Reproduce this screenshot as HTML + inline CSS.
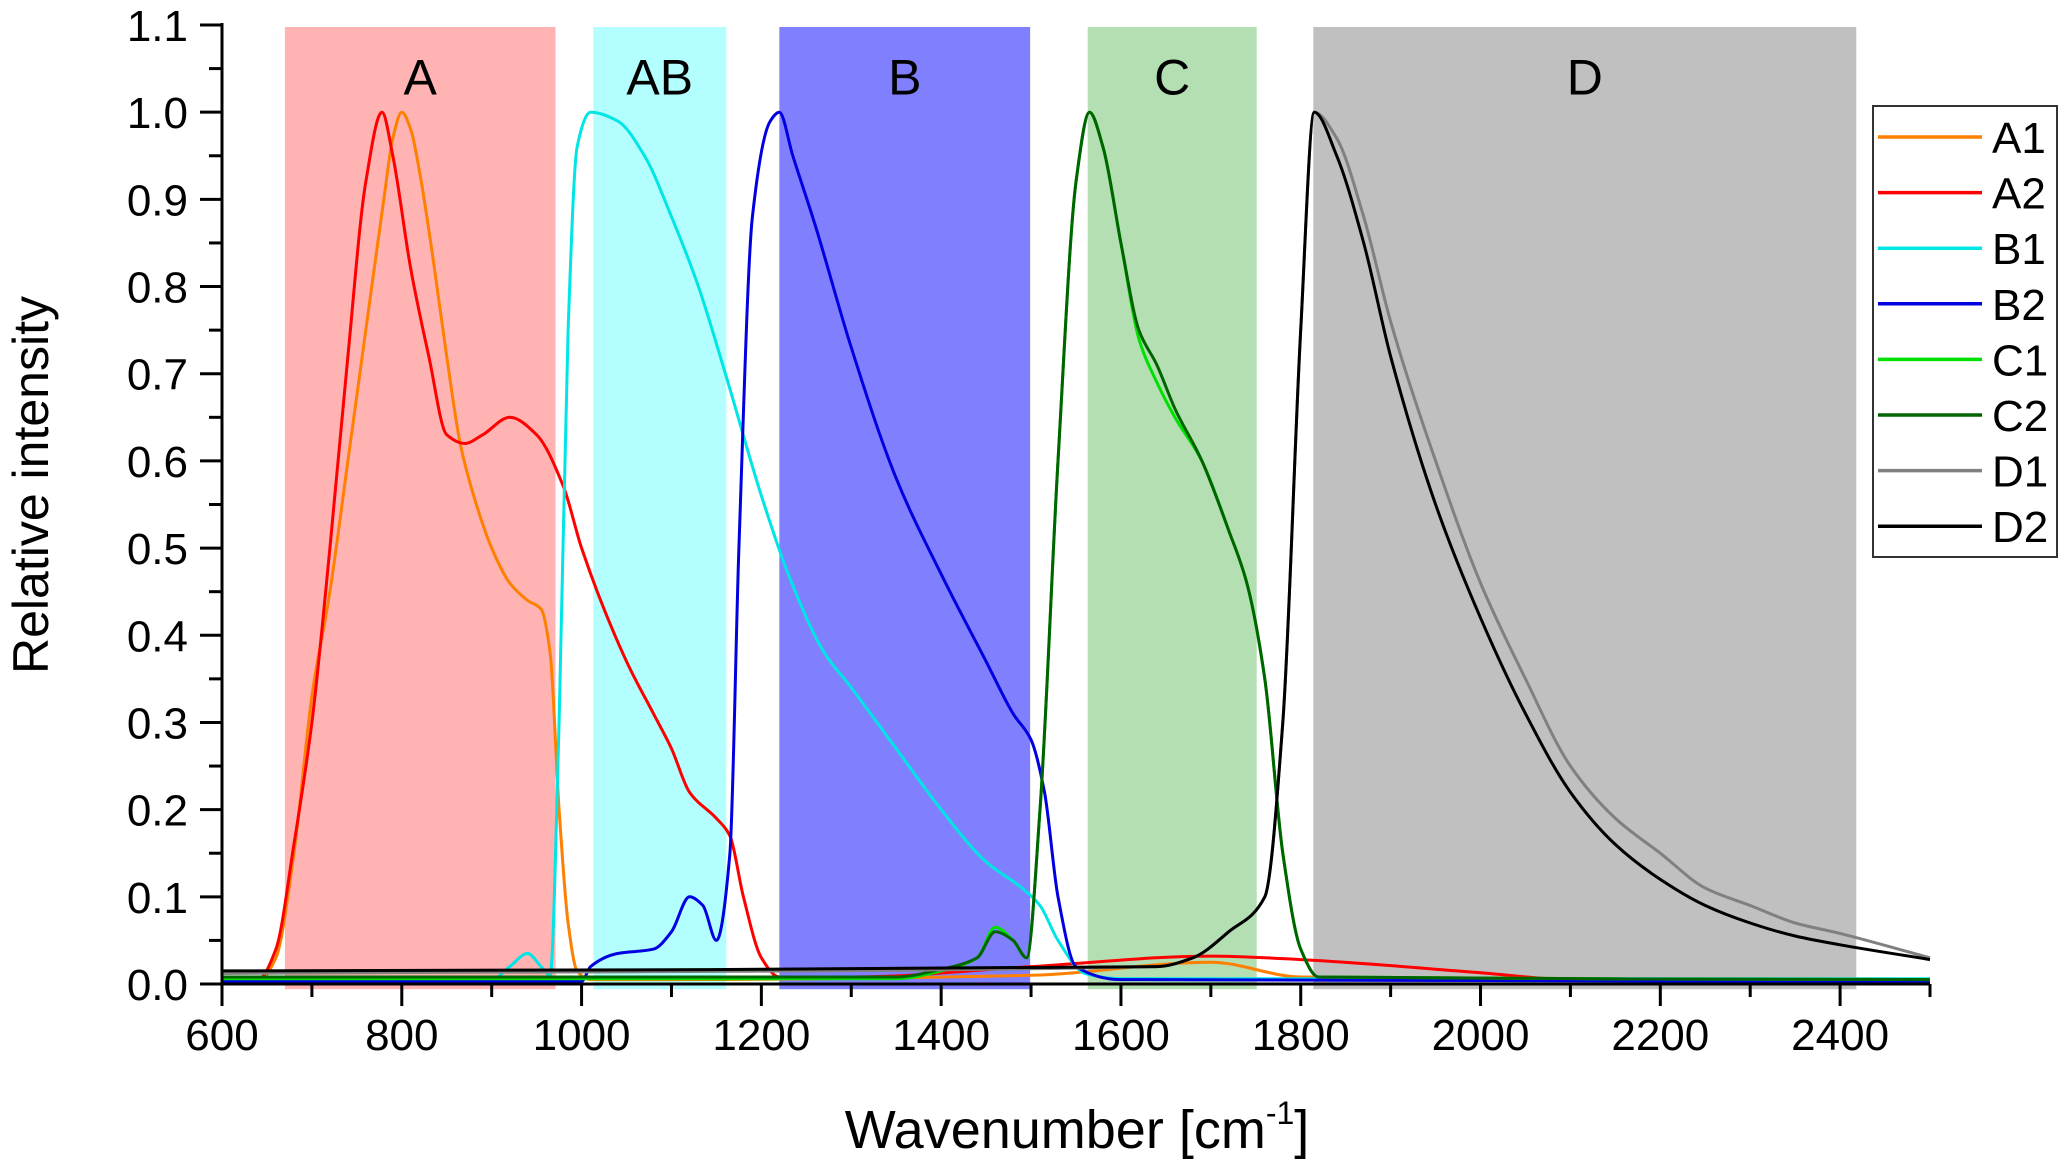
<!DOCTYPE html>
<html><head><meta charset="utf-8"><style>
html,body{margin:0;padding:0;background:#fff;}
svg{display:block;font-family:"Liberation Sans",Arial,sans-serif;}
</style></head><body>
<svg id="chart" width="2067" height="1165" viewBox="0 0 2067 1165" xmlns="http://www.w3.org/2000/svg">
<g id="regions"></g>
<g id="curves"></g>
<g id="axes"></g>
<g id="legend"></g>
</svg>
<script>
const NS="http://www.w3.org/2000/svg";
const X0=222,X1=1930,Y0=984,Y1=25;
const xMin=600,xMax=2500,yMin=0,yMax=1.1;
function sx(v){return X0+(v-xMin)/(xMax-xMin)*(X1-X0);}
function sy(v){return Y0-(v-yMin)/(yMax-yMin)*(Y0-Y1);}

const regionNames=["A","AB","B","C","D"];
const regionStart=[670,1013,1220,1563,1814];
const regionEnd=[971,1161,1499,1751,2418];
const regionColors=["#ffb3b3","#b3ffff","#8080ff","#b3dfb3","#c0c0c0"];

const xTicks=[600,800,1000,1200,1400,1600,1800,2000,2200,2400];
const yTicks=["0.0","0.1","0.2","0.3","0.4","0.5","0.6","0.7","0.8","0.9","1.0","1.1"];

const seriesNames=["A1","A2","B1","B2","C1","C2","D1","D2"];
const seriesColors=["#ff8000","#ff0000","#00e5e5","#0000e0","#00e000","#006400","#808080","#000000"];

const a1X=[600,640,660,680,700,720,740,760,780,790,800,810,820,835,850,865,880,900,920,940,955,965,975,985,995,1010,1100,1500,1700,1800,2500];
const a1Y=[0.003,0.003,0.03,0.15,0.33,0.45,0.6,0.75,0.9,0.97,1.0,0.98,0.93,0.83,0.72,0.62,0.56,0.5,0.46,0.44,0.43,0.38,0.2,0.07,0.015,0.005,0.005,0.01,0.025,0.008,0.005];

const a2X=[600,640,660,680,700,720,740,760,778,790,810,830,850,870,890,920,950,980,1000,1050,1080,1100,1120,1150,1165,1180,1200,1220,1300,1500,1700,1800,2000,2100,2500];
const a2Y=[0.003,0.005,0.04,0.16,0.3,0.5,0.72,0.92,1.0,0.95,0.82,0.72,0.63,0.62,0.63,0.65,0.63,0.57,0.5,0.37,0.31,0.27,0.22,0.19,0.17,0.1,0.03,0.008,0.008,0.02,0.032,0.028,0.013,0.005,0.005];

const b1X=[600,900,920,940,955,965,975,985,995,1010,1040,1070,1100,1130,1160,1200,1230,1270,1300,1350,1400,1450,1490,1510,1530,1560,1600,2500];
const b1Y=[0.005,0.005,0.02,0.035,0.02,0.01,0.3,0.75,0.96,1.0,0.99,0.95,0.88,0.8,0.7,0.56,0.47,0.38,0.34,0.27,0.2,0.14,0.11,0.09,0.05,0.012,0.006,0.006];

const b2X=[600,1000,1010,1040,1080,1100,1120,1135,1150,1165,1175,1190,1210,1220,1235,1260,1300,1350,1400,1450,1480,1500,1515,1530,1550,1600,2500];
const b2Y=[0.003,0.003,0.02,0.035,0.04,0.06,0.1,0.09,0.05,0.15,0.5,0.88,0.99,1.0,0.95,0.87,0.73,0.58,0.47,0.37,0.31,0.28,0.22,0.1,0.02,0.005,0.003];

const c1X=[600,1350,1400,1440,1460,1480,1495,1510,1530,1550,1565,1580,1600,1620,1640,1660,1690,1720,1740,1760,1780,1800,1820,2500];
const c1Y=[0.006,0.006,0.015,0.03,0.065,0.05,0.03,0.2,0.6,0.92,1.0,0.96,0.85,0.74,0.69,0.65,0.6,0.52,0.46,0.35,0.15,0.04,0.008,0.005];

const c2X=[600,1350,1400,1440,1460,1480,1495,1510,1530,1550,1565,1580,1600,1620,1640,1660,1690,1720,1740,1760,1780,1800,1820,2500];
const c2Y=[0.008,0.008,0.017,0.03,0.06,0.05,0.03,0.2,0.6,0.92,1.0,0.96,0.85,0.75,0.71,0.66,0.6,0.52,0.46,0.35,0.15,0.04,0.008,0.005];

const d1X=[600,1640,1680,1720,1760,1780,1800,1815,1840,1870,1900,1950,2000,2050,2100,2150,2200,2250,2300,2350,2400,2500];
const d1Y=[0.012,0.02,0.03,0.06,0.1,0.3,0.75,1.0,0.97,0.88,0.76,0.6,0.46,0.35,0.25,0.19,0.15,0.11,0.09,0.07,0.058,0.03];

const d2X=[600,1640,1680,1720,1760,1780,1800,1815,1840,1870,1900,1950,2000,2050,2100,2150,2200,2250,2300,2350,2400,2500];
const d2Y=[0.015,0.02,0.03,0.06,0.1,0.3,0.75,1.0,0.95,0.85,0.72,0.55,0.42,0.31,0.22,0.16,0.12,0.09,0.07,0.055,0.045,0.028];

const seriesX=[a1X,a2X,b1X,b2X,c1X,c2X,d1X,d2X];
const seriesY=[a1Y,a2Y,b1Y,b2Y,c1Y,c2Y,d1Y,d2Y];

function mk(tag,attrs,parent){const e=document.createElementNS(NS,tag);for(const k in attrs)e.setAttribute(k,attrs[k]);parent.appendChild(e);return e;}

// regions
const rg=document.getElementById("regions");
regionNames.forEach((n,i)=>{
  const r=mk("rect",{x:sx(regionStart[i]),y:Y1+2,width:sx(regionEnd[i])-sx(regionStart[i]),height:sy(-0.006)-(Y1+2),fill:regionColors[i]},rg);
  
  
  const t=mk("text",{x:(sx(regionStart[i])+sx(regionEnd[i]))/2,y:sy(1.02),"text-anchor":"middle","font-size":"50"},rg);
  t.textContent=n;
  
  
});

// monotone cubic interpolation (Fritsch-Carlson)
function pathFor(xs,ys){
  const n=xs.length;const d=[],m=new Array(n);
  for(let i=0;i<n-1;i++)d.push((ys[i+1]-ys[i])/(xs[i+1]-xs[i]));
  m[0]=d[0];m[n-1]=d[n-2];
  for(let i=1;i<n-1;i++){
    if(d[i-1]*d[i]<=0)m[i]=0;
    else{const h0=xs[i]-xs[i-1],h1=xs[i+1]-xs[i];const w1=2*h1+h0,w2=h1+2*h0;m[i]=(w1+w2)/(w1/d[i-1]+w2/d[i]);}
  }
  let s="M"+sx(xs[0]).toFixed(1)+","+sy(ys[0]).toFixed(1);
  for(let i=0;i<n-1;i++){
    const h=xs[i+1]-xs[i];
    const c1x=xs[i]+h/3,c1y=ys[i]+m[i]*h/3,c2x=xs[i+1]-h/3,c2y=ys[i+1]-m[i+1]*h/3;
    s+=" C"+sx(c1x).toFixed(1)+","+sy(c1y).toFixed(1)+" "+sx(c2x).toFixed(1)+","+sy(c2y).toFixed(1)+" "+sx(xs[i+1]).toFixed(1)+","+sy(ys[i+1]).toFixed(1);
  }
  return s;
}
const cg=document.getElementById("curves");
seriesNames.forEach((n,i)=>{
  const pth=mk("path",{d:pathFor(seriesX[i],seriesY[i]),fill:"none",stroke:seriesColors[i],"stroke-width":"3","stroke-linejoin":"round"},cg);
  
  
});

// axes
const ag=document.getElementById("axes");
const yl=mk("line",{x1:X0,y1:Y1-2,x2:X0,y2:Y0+1.5,stroke:"#000","stroke-width":"3"},ag);


const xl=mk("line",{x1:X0-1.5,y1:Y0,x2:X1,y2:Y0,stroke:"#000","stroke-width":"3"},ag);


for(let v=600;v<=2500;v+=100){
  const major=(v%200===0);
  const t=mk("line",{x1:sx(v),y1:Y0,x2:sx(v),y2:Y0+(major?22:13),stroke:"#000","stroke-width":"3"},ag);
  
  
}
xTicks.forEach(v=>{
  const t=mk("text",{x:sx(v),y:1050,"text-anchor":"middle","font-size":"44"},ag);
  t.textContent=String(v);
  
  
});
for(let k=0;k<=22;k++){
  const v=k*0.05;const major=(k%2===0);
  const t=mk("line",{x1:X0,y1:sy(v),x2:X0-(major?22:13),y2:sy(v),stroke:"#000","stroke-width":"3"},ag);
  
  
}
yTicks.forEach(s=>{
  const t=mk("text",{x:188,y:sy(parseFloat(s))+16,"text-anchor":"end","font-size":"44"},ag);
  t.textContent=s;
  
  
});
const yt=mk("text",{x:0,y:0,"text-anchor":"middle","font-size":"50",transform:"translate(48,485) rotate(-90)"},ag);
yt.textContent="Relative intensity";


const xt=mk("text",{x:1077,y:1148,"text-anchor":"middle","font-size":"54"},ag);
xt.innerHTML='Wavenumber [cm<tspan font-size="32" dy="-24">-1</tspan><tspan dy="24">]</tspan>';



// legend
const lg=document.getElementById("legend");
const box=mk("rect",{x:1873,y:106,width:184,height:451,fill:"#fff",stroke:"#333","stroke-width":"2"},lg);


seriesNames.forEach((n,i)=>{
  const y=137+i*55.6;
  const l=mk("line",{x1:1878,y1:y,x2:1982,y2:y,stroke:seriesColors[i],"stroke-width":"3.5"},lg);
  
  
  const t=mk("text",{x:1992,y:y+16,"font-size":"44"},lg);
  t.textContent=n;
  
  
});
</script>
</body></html>
